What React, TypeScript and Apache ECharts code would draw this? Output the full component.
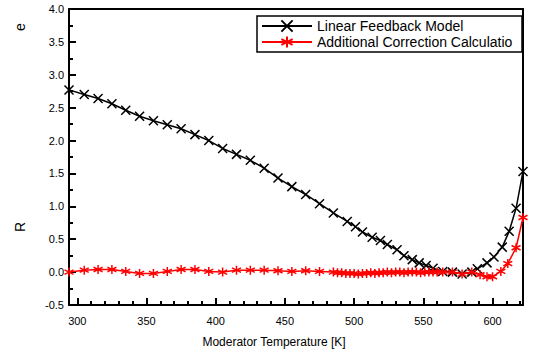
import React, { useEffect, useRef } from "react";
import * as echarts from "echarts";

const seriesNames = ["Linear Feedback Model", "Additional Correction Calculation"];

const blackTemps = [294, 305, 315, 325, 335, 345, 355, 365, 375, 385, 395, 405, 415, 425, 435, 445, 455, 465, 475, 485, 495, 501, 506, 513, 519, 524, 531, 536, 542, 547, 552, 557, 564, 571, 578, 585, 589, 596, 601, 607, 612, 617, 622];
const blackValues = [2.77, 2.7, 2.64, 2.56, 2.46, 2.37, 2.3, 2.24, 2.18, 2.09, 2.0, 1.88, 1.79, 1.7, 1.58, 1.43, 1.3, 1.18, 1.04, 0.9, 0.77, 0.69, 0.61, 0.53, 0.48, 0.42, 0.34, 0.25, 0.19, 0.14, 0.1, 0.06, 0.01, 0.0, -0.03, 0.0, 0.05, 0.14, 0.23, 0.38, 0.62, 0.97, 1.53];

const redTemps = [294, 305, 315, 325, 335, 345, 355, 365, 375, 385, 395, 405, 415, 425, 435, 445, 455, 465, 475, 485, 488, 491, 494, 497, 500, 503, 506, 509, 512, 515, 518, 521, 524, 527, 530, 533, 536, 539, 542, 545, 548, 551, 554, 557, 560, 564, 571, 578, 585, 591, 596, 600, 606, 611, 617, 622];
const redValues = [0.0, 0.03, 0.04, 0.04, 0.01, -0.02, -0.02, 0.01, 0.04, 0.04, 0.01, 0.0, 0.03, 0.03, 0.03, 0.02, 0.01, 0.02, 0.01, 0.0, -0.01, -0.01, -0.02, -0.02, -0.02, -0.03, -0.02, -0.02, -0.01, -0.02, -0.01, -0.01, 0.0, -0.01, 0.0, 0.0, -0.01, 0.0, 0.0, 0.0, -0.01, 0.0, 0.0, 0.0, 0.0, 0.0, 0.0, -0.03, 0.0, -0.04, -0.07, -0.07, 0.01, 0.13, 0.37, 0.83];

const xMajorTicks = [300, 350, 400, 450, 500, 550, 600];
const xMinorTicks = [300, 310, 320, 330, 340, 350, 360, 370, 380, 390, 400, 410, 420, 430, 440, 450, 460, 470, 480, 490, 500, 510, 520, 530, 540, 550, 560, 570, 580, 590, 600, 610, 620];
const xRange = [294, 622];
const yRange = [-0.5, 4.0];
const yStep = 0.5;

const FONT = "'Liberation Sans', Arial, sans-serif";
const X_SYMBOL = "path://M0,0L10,10M10,0L0,10";
const STAR_SYMBOL = "path://M5,0L5,10M0.7,2.5L9.3,7.5M0.7,7.5L9.3,2.5";
const AXIS_LINE = { show: true, onZero: false, lineStyle: { color: "#000", width: 2 } };
const TICK_LINE = { color: "#000", width: 2 };

export default function App() {
  const ref = useRef<HTMLDivElement>(null);
  useEffect(() => {
    if (!ref.current) return;
    const chart = echarts.init(ref.current, undefined, { renderer: "svg" });
    const zip = (t: number[], v: number[]) => t.map((x, i) => [x, v[i]]);
    chart.setOption({
      animation: false,
      backgroundColor: "#fff",
      textStyle: { fontFamily: FONT },
      grid: { left: 69, top: 9, right: 11, bottom: 49, show: false },
      legend: {
        left: 257,
        top: 16,
        orient: "vertical",
        data: seriesNames,
        itemWidth: 50,
        itemHeight: 14,
        itemGap: 0,
        padding: [2, 5, 2, 4],
        backgroundColor: "#fff",
        borderColor: "#000",
        borderWidth: 1.5,
        borderRadius: 0,
        z: 10,
        textStyle: {
          fontFamily: FONT,
          fontSize: 14,
          color: "#000",
          lineHeight: 16,
          width: 200,
          overflow: "truncate",
          ellipsis: "",
        },
      },
      xAxis: [
        {
          type: "value",
          min: xRange[0],
          max: xRange[1],
          position: "bottom",
          name: "Moderator Temperature [K]",
          nameLocation: "middle",
          nameGap: 31,
          nameTextStyle: { fontFamily: FONT, fontSize: 12, color: "#000", padding: [0, 44, 0, 0] },
          axisLine: AXIS_LINE,
          axisTick: { show: true, inside: true, length: 7, customValues: xMajorTicks, lineStyle: TICK_LINE },
          axisLabel: { show: true, customValues: xMajorTicks, fontSize: 11, color: "#000", margin: 10, fontFamily: FONT },
          splitLine: { show: false },
        },
        {
          type: "value",
          min: xRange[0],
          max: xRange[1],
          position: "bottom",
          axisLine: { show: false, onZero: false },
          axisTick: { show: true, inside: true, length: 4, customValues: xMinorTicks, lineStyle: TICK_LINE },
          axisLabel: { show: false },
          splitLine: { show: false },
        },
        {
          type: "value",
          min: xRange[0],
          max: xRange[1],
          position: "top",
          axisLine: AXIS_LINE,
          axisTick: { show: false },
          axisLabel: { show: false },
          splitLine: { show: false },
        },
      ],
      yAxis: [
        {
          type: "value",
          min: yRange[0],
          max: yRange[1],
          interval: yStep,
          position: "left",
          axisLine: AXIS_LINE,
          axisTick: { show: true, inside: true, length: 7, lineStyle: TICK_LINE },
          minorTick: { show: true, splitNumber: 2, length: 4, lineStyle: TICK_LINE },
          axisLabel: { show: true, fontSize: 11, color: "#000", margin: 5, fontFamily: FONT, formatter: (v: number) => v.toFixed(1) },
          splitLine: { show: false },
          minorSplitLine: { show: false },
        },
        {
          type: "value",
          min: yRange[0],
          max: yRange[1],
          interval: yStep,
          position: "right",
          axisLine: AXIS_LINE,
          axisTick: { show: false },
          axisLabel: { show: false },
          splitLine: { show: false },
        },
      ],
      graphic: [
        { type: "text", x: 20, y: 227, rotation: Math.PI / 2, style: { text: "R", font: `14px ${FONT}`, fill: "#000", align: "center", verticalAlign: "middle" } },
        { type: "text", x: 20, y: 27, rotation: Math.PI / 2, style: { text: "e", font: `14px ${FONT}`, fill: "#000", align: "center", verticalAlign: "middle" } },
      ],
      series: [
        {
          name: seriesNames[0],
          type: "line",
          data: zip(blackTemps, blackValues),
          xAxisIndex: 0,
          yAxisIndex: 0,
          symbol: X_SYMBOL,
          symbolSize: 9,
          showAllSymbol: true,
          clip: false,
          lineStyle: { color: "#000", width: 1.5 },
          itemStyle: { color: "#000", borderColor: "#000", borderWidth: 1.5 },
          z: 2,
        },
        {
          name: seriesNames[1],
          type: "line",
          data: zip(redTemps, redValues),
          xAxisIndex: 0,
          yAxisIndex: 0,
          symbol: STAR_SYMBOL,
          symbolSize: 9,
          showAllSymbol: true,
          clip: false,
          lineStyle: { color: "#ff0000", width: 1.5 },
          itemStyle: { color: "#ff0000", borderColor: "#ff0000", borderWidth: 1.5 },
          z: 3,
        },
      ],
    });
    return () => chart.dispose();
  }, []);
  return <div ref={ref} style={{ width: 534, height: 354, position: "absolute", left: 0, top: 0 }} />;
}
